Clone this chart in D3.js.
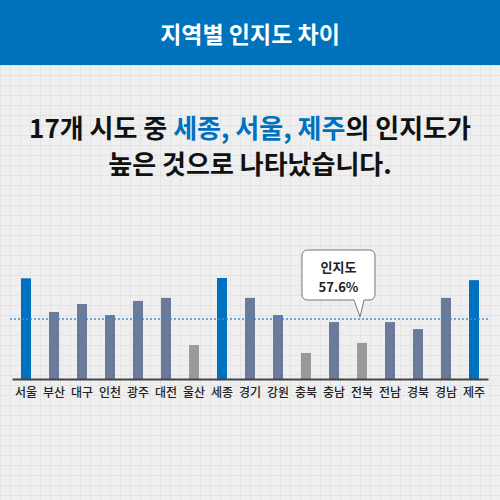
<!DOCTYPE html>
<html><head><meta charset="utf-8">
<script src="https://cdn.jsdelivr.net/npm/d3@7"></script>
<style>body{margin:0}svg{display:block}text{font-family:"Noto Sans CJK KR","Noto Sans",sans-serif}</style>
</head><body>
<script>
var regions = ['서울','부산','대구','인천','광주','대전','울산','세종','경기','강원','충북','충남','전북','전남','경북','경남','제주'];
var values = [70.9,59.9,62.5,58.9,63.5,64.5,49.1,71.0,64.5,58.9,46.5,56.6,49.8,56.6,54.3,64.5,70.3];
var kinds = ['top','mid','mid','mid','mid','mid','low','top','mid','mid','low','mid','low','mid','mid','mid','top'];
var average = 57.6;

var w = 500, h = 500;
var colors = {top: '#0070c0', mid: '#6b7a9b', low: '#9a9a9a'};

var svg = d3.select('body').append('svg').attr('width', w).attr('height', h);

// background grid
svg.append('rect').attr('width', w).attr('height', h).attr('fill', '#efefef');
svg.append('g').selectAll('line').data(d3.range(0, w, 10)).enter().append('line')
	.attr('x1', function(d) { return d + 0.5; }).attr('x2', function(d) { return d + 0.5; })
	.attr('y1', 65).attr('y2', h).attr('stroke', '#e4e4e4');
svg.append('g').selectAll('line').data(d3.range(65, h, 10)).enter().append('line')
	.attr('y1', function(d) { return d + 0.5; }).attr('y2', function(d) { return d + 0.5; })
	.attr('x1', 0).attr('x2', w).attr('stroke', '#e4e4e4');

// header
svg.append('rect').attr('width', w).attr('height', 65).attr('fill', '#0072bc');
svg.append('text').attr('x', w / 2).attr('y', 43).attr('text-anchor', 'middle')
	.attr('fill', '#fff').attr('font-size', 23).attr('font-weight', 700).text('지역별 인지도 차이');

// headline
var l1 = svg.append('text').attr('x', w / 2).attr('y', 138).attr('text-anchor', 'middle')
	.attr('font-size', 26).attr('font-weight', 700).attr('fill', '#111');
l1.append('tspan').text('17개 시도 중 ');
l1.append('tspan').attr('fill', '#0070c0').text('세종, 서울, 제주');
l1.append('tspan').text('의 인지도가');
svg.append('text').attr('x', w / 2).attr('y', 174).attr('text-anchor', 'middle')
	.attr('font-size', 26).attr('font-weight', 700).attr('fill', '#111').text('높은 것으로 나타났습니다.');

// scales
var x = d3.scaleBand().domain(regions).range([12, 488]);
var y = d3.scaleLinear().domain([38, 71]).range([379, 278]);
var bw = 10;

svg.append('g').selectAll('rect').data(regions).enter().append('rect')
	.attr('x', function(d) { return x(d) + x.bandwidth() / 2 - bw / 2; })
	.attr('y', function(d, i) { return y(values[i]); })
	.attr('width', bw)
	.attr('height', function(d, i) { return y(38) - y(values[i]); })
	.attr('fill', function(d, i) { return colors[kinds[i]]; });

// axis
var axis = svg.append('g').attr('transform', 'translate(0,' + y(38) + ')')
	.call(d3.axisBottom(x).tickSize(0).tickPadding(9));
axis.select('.domain').attr('stroke', '#444').attr('stroke-width', 2);
axis.selectAll('text').attr('font-size', 12).attr('fill', '#222').attr('font-weight', 500)
	.style('font-family', '"Noto Sans CJK KR",sans-serif');

// average line
svg.append('line').attr('x1', 10).attr('x2', 488)
	.attr('y1', y(average)).attr('y2', y(average))
	.attr('stroke', '#3d8fd8').attr('stroke-width', 1.5).attr('stroke-dasharray', '2,2');

// callout
var bx = 302, by = 250, bwid = 73, bh = 50, tipX = 360, tipY = y(average) - 2;
svg.append('path')
	.attr('d', 'M' + (bx + 6) + ',' + by + 'H' + (bx + bwid - 6) + 'Q' + (bx + bwid) + ',' + by + ' ' + (bx + bwid) + ',' + (by + 6) +
		'V' + (by + bh - 6) + 'Q' + (bx + bwid) + ',' + (by + bh) + ' ' + (bx + bwid - 6) + ',' + (by + bh) +
		'H' + (tipX + 4) + 'L' + tipX + ',' + tipY + 'L' + (tipX - 6) + ',' + (by + bh) +
		'H' + (bx + 6) + 'Q' + bx + ',' + (by + bh) + ' ' + bx + ',' + (by + bh - 6) +
		'V' + (by + 6) + 'Q' + bx + ',' + by + ' ' + (bx + 6) + ',' + by + 'Z')
	.attr('fill', '#fff').attr('stroke', '#777').attr('stroke-width', 1);
svg.append('text').attr('x', bx + bwid / 2).attr('y', by + 22).attr('text-anchor', 'middle')
	.attr('font-size', 13).attr('font-weight', 700).attr('fill', '#222').text('인지도');
svg.append('text').attr('x', bx + bwid / 2).attr('y', by + 42).attr('text-anchor', 'middle')
	.attr('font-size', 13).attr('font-weight', 700).attr('fill', '#222').text(average + '%');
</script>
</body></html>
